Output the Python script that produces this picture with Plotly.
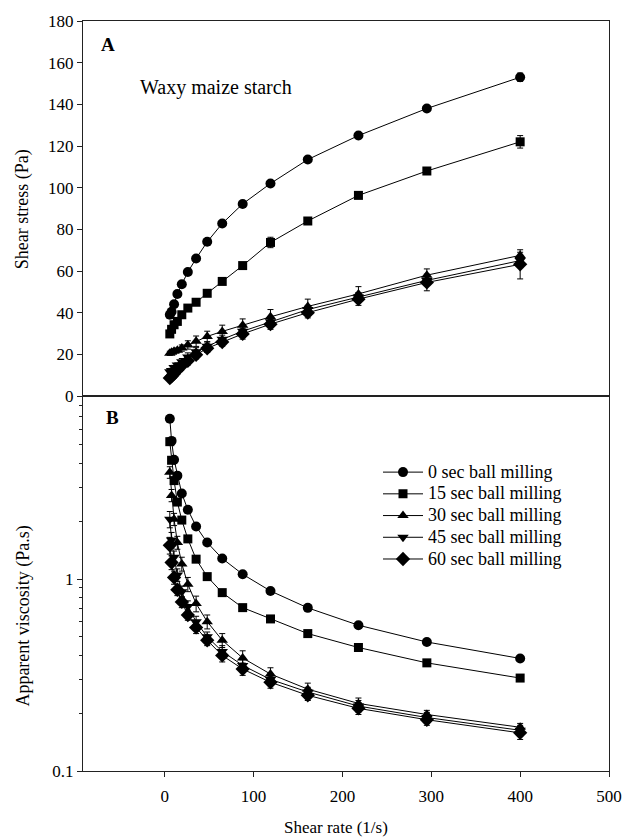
import plotly.graph_objects as go
from plotly.subplots import make_subplots

shear_rate = [5.7, 7.7, 10.5, 14.2, 19.2, 26, 35.3, 47.8, 64.7, 87.7, 119, 161, 218, 295, 400]

series_names = ["0 sec ball milling", "15 sec ball milling", "30 sec ball milling",
                "45 sec ball milling", "60 sec ball milling"]
symbols = ["circle", "square", "triangle-up", "triangle-down", "diamond"]
sizes = [10, 9, 10, 10, 11]

# Panel A: shear stress (Pa)
stress_0 = [39, 40.4, 44, 49, 53.6, 59.5, 66, 74, 82.8, 92.2, 102, 113.5, 125, 138, 153]
stress_15 = [29.8, 32, 34.2, 35.8, 39, 42.2, 45, 49.3, 55, 62.6, 73.7, 84, 96.3, 108, 122]
stress_30 = [20.5, 21, 21.5, 22, 23, 24.5, 26.3, 28.6, 31, 34, 38, 43, 49, 58, 67.5]
stress_45 = [11.7, 12.3, 13.7, 14.9, 16.5, 18.7, 21.2, 23.9, 27.2, 31.1, 35.7, 41.5, 47.5, 55.5, 65]
stress_60 = [8.6, 9.4, 10.7, 12.5, 14.6, 16.9, 19.8, 22.9, 25.9, 29.8, 34.5, 40, 46.5, 54.5, 63.2]
stress_err_0 = [0.8, 0.8, 0.8, 0.8, 0.8, 0.8, 0.8, 0.8, 0.8, 0.8, 1, 1, 1, 1.2, 2]
stress_err_15 = [0.8, 0.8, 0.8, 0.8, 0.8, 0.8, 0.8, 0.8, 0.8, 1, 2.5, 1, 1, 1.2, 3]
stress_err_30 = [1, 1, 1, 1, 1.5, 2, 2.5, 2.5, 3, 3, 3.5, 3.5, 3.5, 3, 1.5]
stress_err_45 = [1, 1, 1, 1, 1.5, 2, 2, 2, 2, 2, 2, 2, 2, 2, 2]
stress_err_60 = [1, 1, 1, 1, 1.5, 2, 2, 2, 2, 2.5, 2.5, 2.5, 3, 4, 7]

# Panel B: apparent viscosity (Pa.s)
visc_0 = [6.85, 5.25, 4.19, 3.46, 2.79, 2.30, 1.88, 1.55, 1.28, 1.06, 0.867, 0.708, 0.575, 0.47, 0.386]
visc_15 = [5.2, 4.16, 3.26, 2.52, 2.03, 1.62, 1.27, 1.03, 0.85, 0.71, 0.62, 0.52, 0.44, 0.366, 0.305]
visc_30 = [3.6, 2.73, 2.05, 1.55, 1.2, 0.94, 0.745, 0.6, 0.48, 0.388, 0.32, 0.267, 0.225, 0.197, 0.169]
visc_45 = [2.05, 1.6, 1.3, 1.05, 0.86, 0.72, 0.6, 0.5, 0.42, 0.355, 0.3, 0.258, 0.218, 0.19, 0.163]
visc_60 = [1.5, 1.22, 1.02, 0.88, 0.76, 0.65, 0.56, 0.48, 0.40, 0.34, 0.29, 0.248, 0.212, 0.185, 0.158]
visc_err_0 = [0.1, 0.08, 0.06, 0.05, 0.04, 0.03, 0.02, 0.02, 0.02, 0.015, 0.01, 0.01, 0.01, 0.008, 0.008]
visc_err_15 = [0.1, 0.08, 0.06, 0.05, 0.04, 0.03, 0.02, 0.02, 0.02, 0.015, 0.01, 0.01, 0.01, 0.008, 0.008]
visc_err_30 = [0.25, 0.2, 0.15, 0.12, 0.1, 0.08, 0.07, 0.05, 0.04, 0.035, 0.025, 0.02, 0.015, 0.01, 0.008]
visc_err_45 = [0.2, 0.15, 0.1, 0.08, 0.06, 0.05, 0.04, 0.03, 0.03, 0.025, 0.02, 0.015, 0.015, 0.012, 0.01]
visc_err_60 = [0.15, 0.1, 0.08, 0.06, 0.05, 0.04, 0.04, 0.03, 0.03, 0.025, 0.02, 0.015, 0.015, 0.012, 0.012]

stresses = [stress_0, stress_15, stress_30, stress_45, stress_60]
stress_errs = [stress_err_0, stress_err_15, stress_err_30, stress_err_45, stress_err_60]
viscs = [visc_0, visc_15, visc_30, visc_45, visc_60]
visc_errs = [visc_err_0, visc_err_15, visc_err_30, visc_err_45, visc_err_60]

FONT = "Liberation Serif, Times New Roman, serif"

fig = make_subplots(rows=2, cols=1, shared_xaxes=True, vertical_spacing=0)

for i in range(5):
    fig.add_trace(go.Scatter(
        x=shear_rate, y=stresses[i], mode="lines+markers", name=series_names[i],
        showlegend=False,
        line=dict(color="black", width=1),
        marker=dict(symbol=symbols[i], size=sizes[i], color="black"),
        error_y=dict(type="data", array=stress_errs[i], color="black", thickness=1, width=3),
    ), row=1, col=1)

for i in range(5):
    fig.add_trace(go.Scatter(
        x=shear_rate, y=viscs[i], mode="lines+markers",
        name='<span style="font-size:18px">' + series_names[i] + '</span>',
        showlegend=True,
        line=dict(color="black", width=1),
        marker=dict(symbol=symbols[i], size=sizes[i], color="black"),
        error_y=dict(type="data", array=visc_errs[i], color="black", thickness=1, width=3),
    ), row=2, col=1)

axis_common = dict(showgrid=False, zeroline=False, showline=True, linecolor="#222",
                   linewidth=1, mirror=True, ticks="outside", ticklen=5, tickcolor="#222",
                   tickfont=dict(family=FONT, size=17, color="black"))

fig.update_xaxes(range=[-92, 500], tickvals=[0, 100, 200, 300, 400, 500], **axis_common)
fig.update_xaxes(showticklabels=False, ticks="", row=1, col=1)
fig.update_xaxes(row=2, col=1, ticklabelstandoff=5)

fig.update_yaxes(range=[0, 180], tickvals=list(range(0, 181, 20)), row=1, col=1, **axis_common)
fig.update_yaxes(type="log", range=[-1, 0.954], tickvals=[0.1, 1], ticktext=["0.1", "1"],
                 minor=dict(tickvals=[0.2, 0.3, 0.4, 0.5, 0.6, 0.7, 0.8, 0.9,
                                      2, 3, 4, 5, 6, 7, 8, 9],
                            ticks="outside", ticklen=3, tickcolor="#222"),
                 row=2, col=1, **axis_common)

annots = [
    dict(text="<b>A</b>", x=108, y=42, size=19),
    dict(text="<b>B</b>", x=112, y=416, size=19),
    dict(text="Waxy maize starch", x=216, y=85, size=20),
]
annotations = []
for a in annots:
    annotations.append(dict(text=a["text"], xref="paper", yref="paper",
                            x=(a["x"] - 83) / 526, y=1 - (a["y"] - 18) / 753,
                            xanchor="center", yanchor="middle", showarrow=False,
                            font=dict(family=FONT, size=a["size"], color="black")))
annotations.append(dict(text="Shear stress (Pa)", xref="paper", yref="paper",
                        x=(22 - 83) / 526, y=1 - (207 - 18) / 753, textangle=-90,
                        xanchor="center", yanchor="middle", showarrow=False,
                        font=dict(family=FONT, size=18, color="black")))
annotations.append(dict(text="Apparent viscosity (Pa.s)", xref="paper", yref="paper",
                        x=(24 - 83) / 526, y=1 - (616 - 18) / 753, textangle=-90,
                        xanchor="center", yanchor="middle", showarrow=False,
                        font=dict(family=FONT, size=18, color="black")))
annotations.append(dict(text="Shear rate (1/s)", xref="paper", yref="paper",
                        x=(336 - 83) / 526, y=1 - (828 - 18) / 753,
                        xanchor="center", yanchor="middle", showarrow=False,
                        font=dict(family=FONT, size=17, color="black")))

fig.update_layout(
    width=635, height=837,
    margin=dict(l=83, r=26, t=18, b=66),
    paper_bgcolor="white", plot_bgcolor="white",
    annotations=annotations,
    legend=dict(x=(378 - 83) / 526, y=1 - (455 - 18) / 753, xanchor="left", yanchor="top",
                bgcolor="rgba(0,0,0,0)", borderwidth=0, tracegroupgap=0, itemwidth=40,
                font=dict(family=FONT, size=14.4, color="black")),
)

fig.write_html("out.html")
